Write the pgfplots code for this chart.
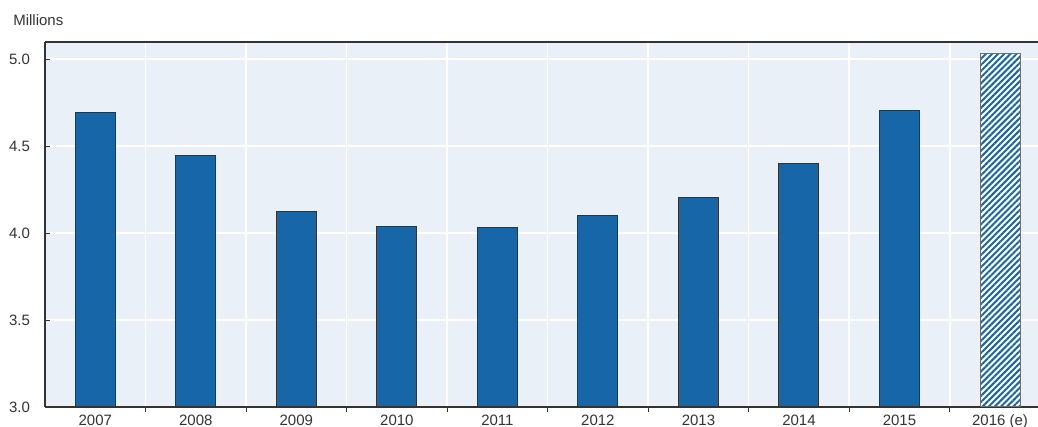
\documentclass[border=0pt]{standalone}
\usepackage{pgfplots}
\pgfplotsset{compat=1.18}
\usepackage{fontspec}
\setmainfont{Liberation Sans}
\usetikzlibrary{patterns.meta}
\definecolor{barblue}{HTML}{1666A8}
\definecolor{bgc}{HTML}{EAF0F7}
\definecolor{axc}{HTML}{333333}
\begin{document}
\begin{tikzpicture}[font=\fontsize{9}{11}\selectfont]
\begin{axis}[
  at={(27pt,12pt)}, anchor=south west,
  scale only axis, width=595.8pt, height=219pt,
  xmin=-0.5, xmax=9.378, ymin=3, ymax=5.098,
  axis background/.style={fill=bgc},
  axis x line*=bottom, axis y line*=left,
  axis line style={axc, line width=0.9pt},
  clip=false,
  xtick={0,...,9},
  xticklabels={2007,2008,2009,2010,2011,2012,2013,2014,2015,2016 (e)},
  major x tick style={draw=none},
  minor xtick={0.5,1.5,...,8.5},
  xminorgrids,
  minor grid style={white, line width=0.9pt},
  ytick={3,3.5,4,4.5,5},
  ymajorgrids,
  major grid style={white, line width=0.9pt},
  tick align=inside,
  major tick length=3pt, minor tick length=3pt,
  tick style={axc, line width=0.6pt},
  yticklabel style={/pgf/number format/fixed, /pgf/number format/precision=1, /pgf/number format/fixed zerofill, text=axc, xshift=-5.5pt},
  xticklabel style={text=axc, yshift=1.8pt},
  /pgf/number format/assume math mode=true,
  ybar, bar width=24pt,
]
\addplot[bar shift=0pt, fill=barblue, draw=axc, line width=0.6pt] coordinates {
  (0,4.695) (1,4.448) (2,4.126) (3,4.040) (4,4.034) (5,4.098) (6,4.207) (7,4.397) (8,4.703)
};
\addplot[bar shift=0pt, fill=white, draw=axc!70, line width=0.6pt,
  postaction={pattern={Lines[angle=45, distance=2.6pt, line width=1.2pt]}, pattern color=barblue}] coordinates {
  (9,5.033)
};
\draw[axc, line width=0.9pt] (rel axis cs:0,1) -- (rel axis cs:1,1);
\end{axis}
\node[anchor=base west, text=axc, inner sep=0pt] at (7.8pt,240.6pt) {Millions};
\pgfresetboundingbox
\useasboundingbox (0,0) rectangle (622.8pt,256.2pt);
\end{tikzpicture}
\end{document}
